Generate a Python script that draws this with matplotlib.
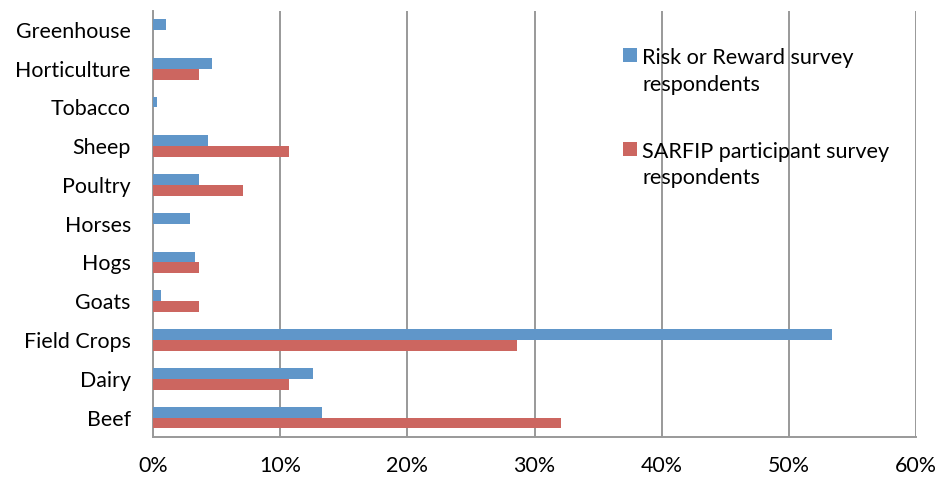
import matplotlib.pyplot as plt
from matplotlib.patches import Rectangle
from matplotlib.ticker import PercentFormatter

# share of respondents by farm type (percent)
categories = ["Beef", "Dairy", "Field Crops", "Goats", "Hogs", "Horses",
              "Poultry", "Sheep", "Tobacco", "Horticulture", "Greenhouse"]
risk_reward = [13.3, 12.6, 53.4, 0.6, 3.3, 2.9, 3.6, 4.3, 0.3, 4.6, 1.0]
sarfip = [32.1, 10.7, 28.6, 3.6, 3.6, 0, 7.1, 10.7, 0, 3.6, 0]

series_names = [["Risk or Reward survey", "respondents"],
                ["SARFIP participant survey", "respondents"]]
colors = ["#6096C9", "#CC6660"]

plt.rcParams["font.family"] = ["Lato", "DejaVu Sans"]

fig = plt.figure(figsize=(9.39, 4.78), dpi=100)
ax = fig.add_axes([0.163, 0.086, 0.8125, 0.892])

y = list(range(len(categories)))
h = 0.28
ax.barh([v + h / 2 for v in y], risk_reward, height=h, color=colors[0], zorder=3)
ax.barh([v - h / 2 for v in y], sarfip, height=h, color=colors[1], zorder=3)

ax.set_xlim(0, 60)
ax.set_ylim(-0.5, len(categories) - 0.5)
ax.set_xticks(range(0, 61, 10))
ax.xaxis.set_major_formatter(PercentFormatter(decimals=0))
ax.set_yticks(y)
ax.set_yticklabels(categories)
ax.tick_params(axis="both", length=0, labelsize=15.4, colors="black")
ax.tick_params(axis="x", pad=14)
ax.tick_params(axis="y", pad=16)

ax.grid(axis="x", color="#999999", linewidth=1.4, zorder=0)
for side in ["top", "right"]:
    ax.spines[side].set_visible(False)
for side in ["left", "bottom"]:
    ax.spines[side].set_color("#999999")
    ax.spines[side].set_linewidth(1.4)

# legend drawn by hand so the swatch sits on the first text line
for i, (lines, col) in enumerate(zip(series_names, colors)):
    top = 48 + i * 93.5
    fig.patches.append(Rectangle((623 / 939, 1 - (top + 14) / 478), 14 / 939, 14 / 478,
                                 transform=fig.transFigure, facecolor=col,
                                 edgecolor="none"))
    for j, line in enumerate(lines):
        base = top + 16 + j * 27
        fig.text(642 / 939, 1 - base / 478, line, fontsize=15.6,
                 va="baseline", ha="left")

fig.savefig("out.png", dpi=100)
